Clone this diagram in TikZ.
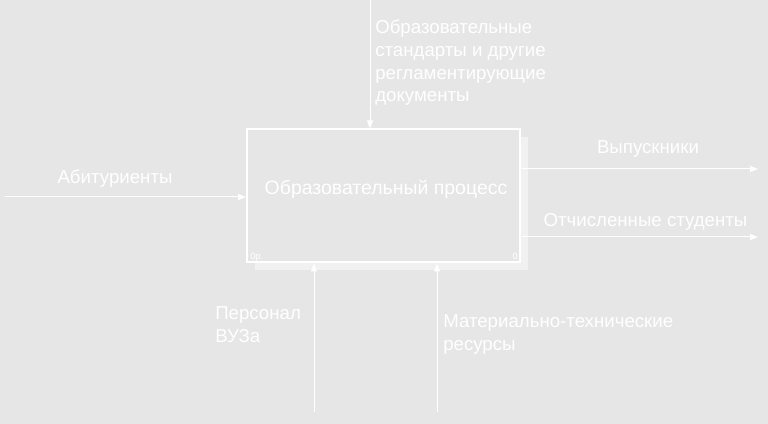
\documentclass[tikz,border=0pt]{standalone}
\usepackage{fontspec}
\setmainfont{Liberation Sans}
\usetikzlibrary{arrows.meta}
\definecolor{bggray}{RGB}{230,230,230}
\definecolor{shadowgray}{RGB}{241,241,241}
\begin{document}
\begin{tikzpicture}[x=0.75pt, y=-0.75pt]
    \tikzstyle{every node} = [text = white, inner sep = 0pt, font = \fontsize{14}{17}\selectfont];
    \tikzstyle{arrow} = [draw = white, line width = .75pt, -{Triangle[length = 6pt, width = 4.5pt]}];
    \fill[bggray] (0,0) rectangle (768,424);
    \useasboundingbox (0,0) rectangle (768,424);
    % shadow of the box
    \fill[shadowgray] (520,137) rectangle (528,270);
    \fill[shadowgray] (255,262) rectangle (528,270);
    \node[draw = white, line width = 1.5pt, minimum width = 204.75pt, minimum height = 99.75pt] (box) at (383.5,196) {};
    \node[anchor = base, font = \fontsize{14.6}{17}\selectfont] (title) at (386,195) {Образовательный процесс};
    \node[anchor = base west, font = \fontsize{7}{8}\selectfont] (nodeno) at (250,259) {0p.};
    \node[anchor = base east, font = \fontsize{7}{8}\selectfont] (cost) at (518,259) {0};
    \coordinate (abit) at (5,197);
    \coordinate (std) at (370,0);
    \coordinate (vyp) at (758,169);
    \coordinate (otch) at (758,237);
    \coordinate (pers) at (314,412);
    \coordinate (res) at (437,412);
    \node[anchor = base] (abitlbl) at (115,184) {Абитуриенты};
    \node[anchor = base west, align = left] (stdlbl) at (375,102) {Образовательные\\стандарты и другие\\регламентирующие\\документы};
    \node[anchor = base] (vyplbl) at (648,154) {Выпускники};
    \node[anchor = base] (otchlbl) at (645.5,227) {Отчисленные студенты};
    \node[anchor = base west, align = left] (perslbl) at (215,342) {Персонал\\ВУЗа};
    \node[anchor = base west, align = left] (reslbl) at (443,350) {Материально-технические\\ресурсы};
    \draw[arrow] (abit) -- (abit -| box.west);
    \draw[arrow] (std) -- (std |- box.north);
    \draw[arrow] (vyp -| box.east) -- (vyp);
    \draw[arrow] (otch -| box.east) -- (otch);
    \draw[arrow] (pers) -- (pers |- box.south);
    \draw[arrow] (res) -- (res |- box.south);
\end{tikzpicture}
\end{document}
